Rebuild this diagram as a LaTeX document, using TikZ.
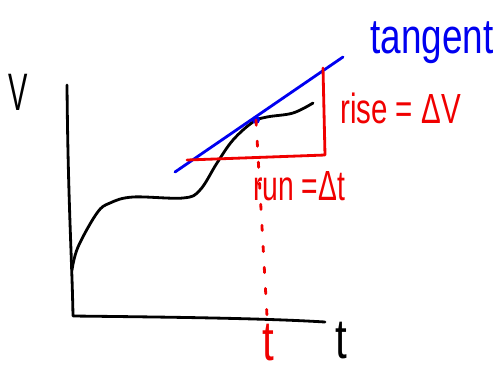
\documentclass[tikz,border=0pt]{standalone}
\usepackage{fontspec}
\setmainfont{Liberation Sans}
\usetikzlibrary{positioning, calc}
\definecolor{penred}{RGB}{240,0,0}
\definecolor{penblue}{RGB}{0,0,240}

\begin{document}
\begin{tikzpicture}[x=0.02cm, y=-0.02cm,
    pen/.style={line width=1.6pt, line cap=round, line join=round},
    hand/.style={inner sep=0pt, anchor=base west, xscale=#1},
    hand/.default=0.7]
      \useasboundingbox (0, 0) rectangle (504, 370);
      % axes
      \coordinate (top) at (67, 85);
      \coordinate (O) at (73, 316);
      \coordinate (tend) at (325, 322);
      \draw[pen] (top) .. controls (68, 200) and (72, 260) .. (O)
        .. controls (160, 317) and (260, 318) .. (tend);
      \node[hand=0.55] (vlab) at (8, 110) {\fontsize{30}{32}\selectfont V};
      \node[hand=0.75] (tlab) at (335, 358) {\fontsize{32}{34}\selectfont t};
      % curve
      \draw[pen] plot[smooth, tension=0.6] coordinates {(72, 270) (78, 247) (97, 213)
        (110, 203) (133, 197) (183, 198) (200, 190) (217, 163) (233, 140)
        (253, 122) (267, 117) (293, 113) (313, 103)};
      % tangent
      \coordinate (P) at (256, 120);
      \draw[pen, penblue] (175, 172) -- (343, 57);
      \fill[penblue] (P) circle (4);
      \node[hand=0.75, penblue] (tang) at (370, 53) {\fontsize{28}{30}\selectfont tangent};
      % rise and run
      \coordinate (A) at (187, 160);
      \coordinate (B) at (325, 155);
      \coordinate (C) at (323, 68);
      \draw[pen, penred] (A) -- (B) -- (C);
      \draw[pen, penred, dash pattern=on 3pt off 9pt] (P) -- (267, 316);
      \node[hand=0.7, penred] (rise) at (340, 123) {\fontsize{24}{26}\selectfont rise = ΔV};
      \node[hand=0.67, penred] (run) at (253, 200) {\fontsize{24}{26}\selectfont run =Δt};
      \node[hand=0.75, penred] (tred) at (262, 360) {\fontsize{32}{34}\selectfont t};
    \end{tikzpicture}
\end{document}
